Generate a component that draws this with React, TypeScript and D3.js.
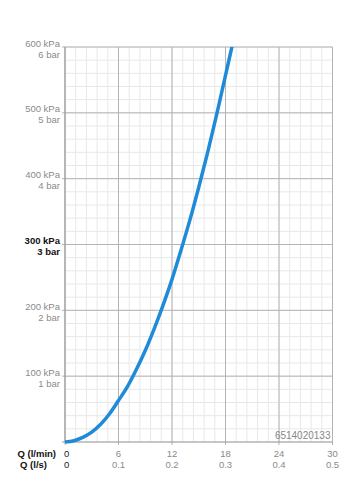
import React from "react";
import * as d3 from "d3";

const flowLpm = [0, 1, 2, 3, 4, 5, 6, 7, 8, 9, 10, 11, 12, 13, 14, 15, 16, 17, 18, 18.8];
const pressureKPa = [0, 2, 7, 15, 27, 43, 63, 84, 110, 139, 172, 208, 247, 291, 337, 387, 440, 497, 557, 605];

const yTicksKPa = [100, 200, 300, 400, 500, 600];
const yLabelKPa = ["100 kPa", "200 kPa", "300 kPa", "400 kPa", "500 kPa", "600 kPa"];
const yLabelBar = ["1 bar", "2 bar", "3 bar", "4 bar", "5 bar", "6 bar"];
const xTicksLpm = [0, 6, 12, 18, 24, 30];
const xLabelLps = ["0", "0.1", "0.2", "0.3", "0.4", "0.5"];
const code = "6514020133";

const W = 354;
const H = 500;

export default function App() {
  const x = d3.scaleLinear().domain([0, 30]).range([65, 332.5]);
  const y = d3.scaleLinear().domain([0, 600]).range([442, 47]);
  const minorX = d3.range(0, 30.001, 1.2);
  const minorY = d3.range(0, 600.001, 20);
  const line = d3
    .line<number>()
    .x((_, i) => x(flowLpm[i]))
    .y((d) => y(d))
    .curve(d3.curveCatmullRom.alpha(0.5));
  const font = "'Liberation Sans', Arial, Helvetica, sans-serif";
  const [x0, x1] = x.range();
  const [y0, y1] = y.range();
  return (
    <svg
      width={W}
      height={H}
      style={{ position: "absolute", left: 0, top: 0, background: "#fff" }}
      fontFamily={font}
    >
      <defs>
        <clipPath id="plot">
          <rect x={x0} y={y1} width={x1 - x0} height={y0 - y1 + 3} />
        </clipPath>
      </defs>
      {minorX.map((v, i) => (
        <line key={"mx" + i} x1={x(v)} x2={x(v)} y1={y1} y2={y0} stroke="#e8e8e8" strokeWidth={1} />
      ))}
      {minorY.map((v, i) => (
        <line key={"my" + i} x1={x0} x2={x1} y1={y(v)} y2={y(v)} stroke="#e8e8e8" strokeWidth={1} />
      ))}
      {xTicksLpm.map((v, i) => (
        <line key={"Mx" + i} x1={x(v)} x2={x(v)} y1={y1} y2={y0 + 3} stroke="#b4b4b4" strokeWidth={1} />
      ))}
      {yTicksKPa.map((v, i) => (
        <line key={"My" + i} x1={x0 - 3} x2={x1} y1={y(v)} y2={y(v)} stroke="#b4b4b4" strokeWidth={1} />
      ))}
      <line x1={x0} x2={x0} y1={y1} y2={y0} stroke="#999" strokeWidth={1} />
      <line x1={x0 - 3} x2={x1} y1={y0} y2={y0} stroke="#999" strokeWidth={1} />
      <text x={x1 - 2} y={y0 - 3} fontSize={10} fill="#888" textAnchor="end">
        {code}
      </text>
      <path
        d={line(pressureKPa) || ""}
        fill="none"
        stroke="#1f8bd8"
        strokeWidth={3.5}
        strokeLinecap="round"
        clipPath="url(#plot)"
      />
      {yTicksKPa.map((v, i) => {
        const bold = v === 300;
        const fill = bold ? "#111" : "#8a8a8a";
        return (
          <g key={"yl" + i} fontSize={9.5} fill={fill} fontWeight={bold ? "bold" : "normal"} textAnchor="end">
            <text x={60} y={y(v) - 0.5}>{yLabelKPa[i]}</text>
            <text x={60} y={y(v) + 10.5}>{yLabelBar[i]}</text>
          </g>
        );
      })}
      <text x={56} y={457} fontSize={9.5} fontWeight="bold" fill="#111" textAnchor="end">
        Q (l/min)
      </text>
      <text x={47} y={468} fontSize={9.5} fontWeight="bold" fill="#111" textAnchor="end">
        Q (l/s)
      </text>
      {xTicksLpm.map((v, i) => {
        const fill = i === 0 ? "#222" : "#8a8a8a";
        return (
          <g key={"xl" + i} fontSize={9.5} fill={fill} textAnchor={i === 0 ? "start" : "middle"}>
            <text x={i === 0 ? x(v) - 1 : x(v)} y={457}>{String(v)}</text>
            <text x={i === 0 ? x(v) - 1 : x(v)} y={468}>{xLabelLps[i]}</text>
          </g>
        );
      })}
    </svg>
  );
}
